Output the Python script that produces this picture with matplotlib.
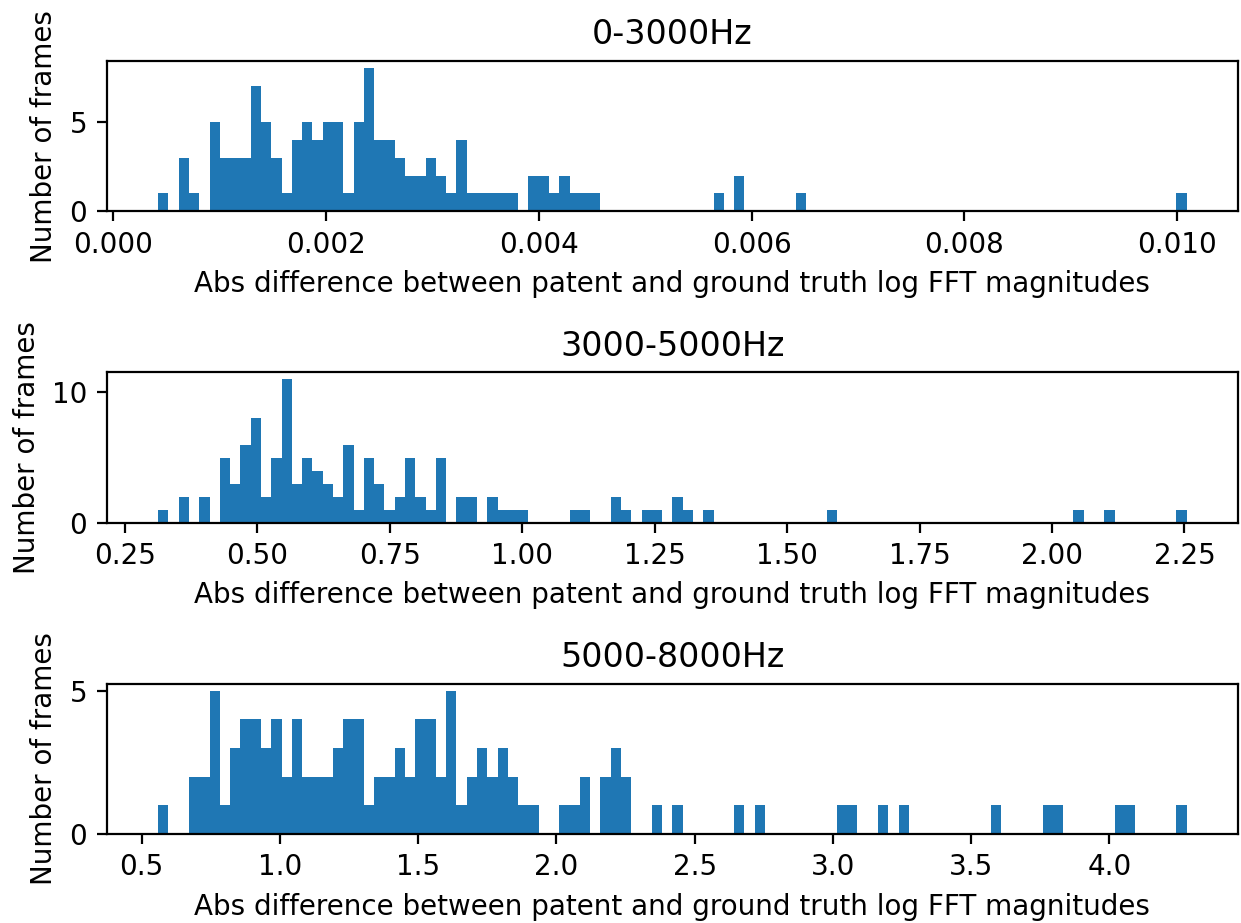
import numpy as np
import matplotlib
matplotlib.use("Agg")
import matplotlib.pyplot as plt

# ──────────────────────────────────────────────────────────────
# Histogram counts per band (100 equal-width bins over [lo, hi])
# ──────────────────────────────────────────────────────────────
BANDS = ["0-3000Hz", "3000-5000Hz", "5000-8000Hz"]

LOW_RANGE = (0.00042, 0.01009)
LOW_COUNTS = [0] * 100
for i, c in enumerate([1, 0, 3, 1, 0, 5, 3, 3, 3, 7, 5, 3, 1, 4, 5, 4, 5, 5, 1, 5,
                       8, 4, 4, 3, 2, 2, 3, 2, 1, 4, 1, 1, 1, 1, 1, 0, 2, 2, 1, 2,
                       1, 1, 1]):
    LOW_COUNTS[i] = c
LOW_COUNTS[54] = 1
LOW_COUNTS[56] = 2
LOW_COUNTS[62] = 1
LOW_COUNTS[99] = 1

MID_RANGE = (0.3126, 2.254)
MID_COUNTS = [0] * 100
for i, c in enumerate([1, 0, 2, 0, 2, 0, 5, 3, 6, 8, 2, 5, 11, 3, 5, 4, 3, 2, 6, 1,
                       5, 3, 1, 2, 5, 2, 1, 5, 0, 2, 2, 0, 2, 1, 1, 1, 0, 0, 0, 0,
                       1, 1, 0, 0, 2, 1, 0, 1, 1, 0, 2, 1, 0, 1]):
    MID_COUNTS[i] = c
for i in (65, 89, 92, 99):
    MID_COUNTS[i] = 1

HIGH_RANGE = (0.560, 4.279)
HIGH_COUNTS = [0] * 100
for i, c in enumerate([1, 0, 0, 2, 2, 5, 1, 3, 4, 4, 3, 4, 2, 4, 2, 2, 2, 3, 4, 4,
                       1, 2, 2, 3, 2, 4, 4, 2, 5, 1, 2, 3, 2, 3, 2, 1, 1, 0, 0, 1,
                       1, 2, 0, 2, 3, 2, 0, 0, 1, 0, 1]):
    HIGH_COUNTS[i] = c
for i in (56, 58, 66, 67, 70, 72, 81, 86, 87, 93, 94, 99):
    HIGH_COUNTS[i] = 1

XLABEL = "Abs difference between patent and ground truth log FFT magnitudes"
YLABEL = "Number of frames"


def draw_hist(ax, rng, counts, title):
    edges = np.linspace(rng[0], rng[1], len(counts) + 1)
    centers = (edges[:-1] + edges[1:]) / 2
    ax.hist(centers, bins=edges, weights=counts)
    ax.set_title(title)
    ax.set_xlabel(XLABEL)
    ax.set_ylabel(YLABEL)


fig, axes = plt.subplots(3, 1, figsize=(6.205, 4.615), dpi=200)
draw_hist(axes[0], LOW_RANGE, LOW_COUNTS, BANDS[0])
draw_hist(axes[1], MID_RANGE, MID_COUNTS, BANDS[1])
draw_hist(axes[2], HIGH_RANGE, HIGH_COUNTS, BANDS[2])

axes[0].set_yticks([0, 5])
axes[1].set_yticks([0, 10])
axes[2].set_yticks([0, 5])
axes[1].set_xticks(np.arange(0.25, 2.26, 0.25))
axes[2].set_xticks(np.arange(0.5, 4.01, 0.5))

fig.subplots_adjust(left=0.086, right=0.9976, top=0.934, bottom=0.0964, hspace=1.07)
fig.savefig("out.png", dpi=200)
